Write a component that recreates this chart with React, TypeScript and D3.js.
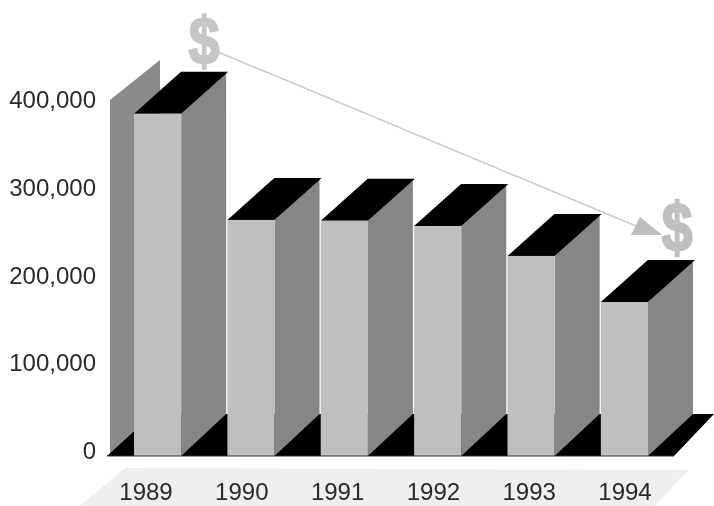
import React from "react";
import * as d3 from "d3";

const years = ["1989", "1990", "1991", "1992", "1993", "1994"];
const values = [390000, 269000, 268000, 262000, 228000, 175500];
const ticks = [0, 100000, 200000, 300000, 400000];

const W = 714, H = 506;
const y = d3.scaleLinear().domain([0, 400000]).range([456, 105]);
const x = d3.scaleBand<string>().domain(years).range([134, 648]).paddingInner(0.495).paddingOuter(0);
const xLabel = d3.scalePoint<string>().domain(years).range([146, 625]);
const dx = 47, sideDx = 45, dy = -42;
const FONT = "'Liberation Sans', Arial, sans-serif";
const poly = (pts: [number, number][]) => pts.map((p) => p.join(",")).join(" ");

export default function App() {
  const y0 = y(0);
  const bw = x.bandwidth();
  const wallL = 110, wallR = 160;
  const wallTop = y(400000) - 5;
  return (
    <svg width={W} height={H} viewBox={`0 0 ${W} ${H}`} style={{ position: "absolute", left: 0, top: 0, background: "#fff" }}>
      <defs>
        <filter id="soft" x="-5%" y="-5%" width="110%" height="110%">
          <feGaussianBlur stdDeviation="0.55" />
        </filter>
      </defs>
      <g filter="url(#soft)">
        <polygon points={poly([[125, 468], [688, 470], [655, 506], [80, 506]])} fill="#efefef" />
        <polygon points={poly([[wallL, wallTop], [wallR, wallTop - 40], [wallR, y0 + dy], [wallL, y0]])} fill="#8a8a8a" />
        <polygon points={poly([[107, y0], [674, y0], [714, y0 + dy], [153, y0 + dy]])} fill="#000" />
        {years.map((yr, i) => {
          const l = x(yr)!, r = l + bw, t = y(values[i]);
          return (
            <g key={yr}>
              <polygon points={poly([[r, t], [r + sideDx, t + dy], [r + sideDx, y0 + dy], [r, y0]])} fill="#868686" />
              <polygon points={poly([[l, t], [r, t], [r + dx, t + dy], [l + dx, t + dy]])} fill="#000" />
              <rect x={l} y={t} width={bw} height={y0 - t} fill="#bfbfbf" />
            </g>
          );
        })}
        <line x1={107} x2={674} y1={y0} y2={y0} stroke="#333" strokeWidth={1} />
        <line x1={218} y1={52} x2={636} y2={226} stroke="#cdcdcd" strokeWidth={1.6} />
        <polygon points={poly([[640, 217], [662, 235], [631, 235]])} fill="#bdbdbd" />
        <text transform="translate(204,64) scale(0.92,1.1)" textAnchor="middle" fontFamily={FONT} fontWeight={700} fontSize={60} fill="#c6c6c6" stroke="#c6c6c6" strokeWidth={2}>$</text>
        <text transform="translate(677,251) scale(0.92,1.14)" textAnchor="middle" fontFamily={FONT} fontWeight={700} fontSize={60} fill="#c0c0c0" stroke="#c0c0c0" strokeWidth={2}>$</text>
        {ticks.map((t) => (
          <text key={t} x={96} y={y(t) + 3} textAnchor="end" fontFamily={FONT} fontSize={24} fill="#2a2a2a">
            {d3.format(",")(t)}
          </text>
        ))}
        {years.map((yr) => (
          <text key={yr} x={xLabel(yr)!} y={500} textAnchor="middle" fontFamily={FONT} fontSize={24} fill="#2a2a2a">
            {yr}
          </text>
        ))}
      </g>
    </svg>
  );
}
